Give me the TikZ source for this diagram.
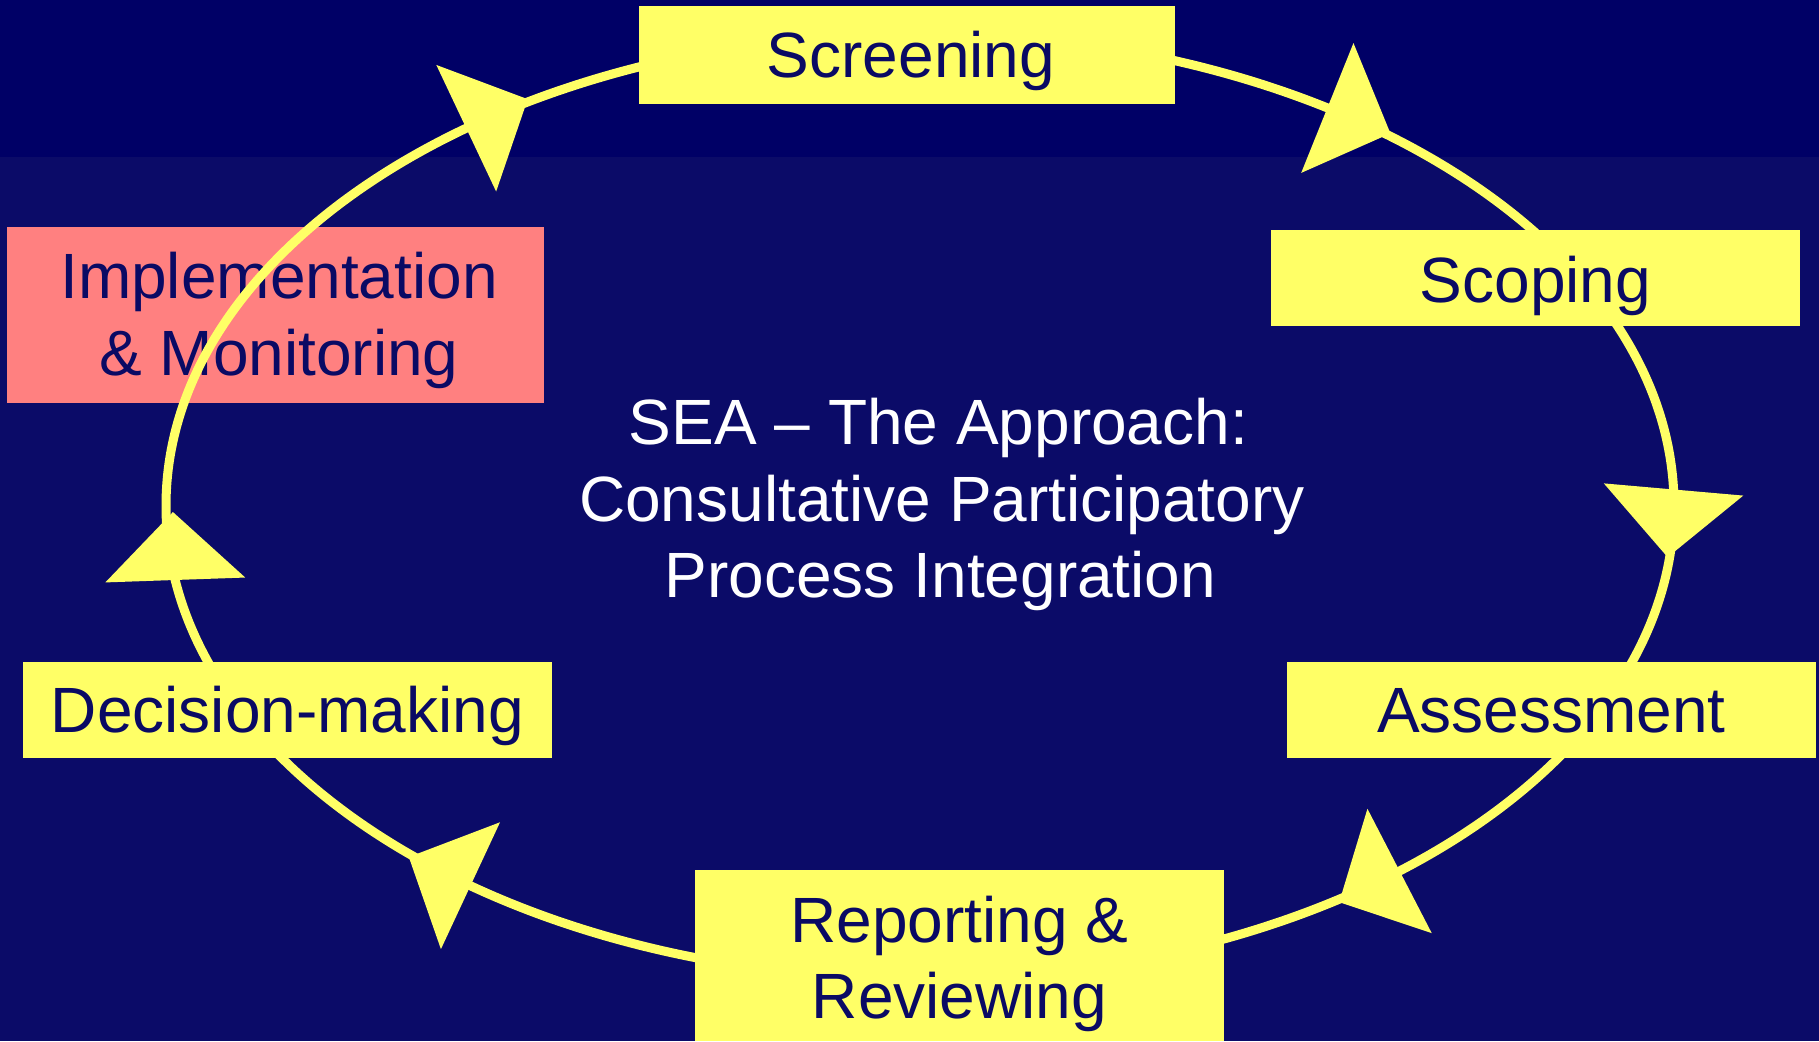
\documentclass[tikz,border=0pt]{standalone}
\usepackage{fontspec}
\setmainfont{Liberation Sans}
\definecolor{bgtop}{RGB}{0,0,102}
\definecolor{bgbot}{RGB}{11,11,104}
\definecolor{boxyellow}{RGB}{255,255,102}
\definecolor{boxpink}{RGB}{255,128,128}
\definecolor{navytext}{RGB}{10,10,100}
\newcommand\cycarrow[2][]{%
  \pgfmathsetmacro\cyX{920+754*cos(#2)}%
  \pgfmathsetmacro\cyY{535+473*sin(#2)}%
  \pgfmathsetmacro\cyA{atan2(-473*cos(#2),754*sin(#2))}%
  \if\relax\detokenize{#1}\relax\else\def\cyA{#1}\fi
  \begin{scope}[shift={(\cyX,\cyY)},rotate=\cyA]
    \fill[boxyellow] (0,-70) -- (68,0) -- (0,70) -- cycle;
  \end{scope}}
\tikzset{
  stagebox/.style={fill=boxyellow, draw=none, inner sep=0pt},
  implbox/.style={fill=boxpink, draw=none, inner sep=0pt},
  lbl/.style={anchor=base, inner sep=0pt, text=navytext, font=\fontsize{64}{77}\selectfont},
  centerlbl/.style={anchor=base, inner sep=0pt, text=white, font=\fontsize{64}{77}\selectfont},
  cycline/.style={draw=boxyellow, line width=9pt}
}
\begin{document}
\begin{tikzpicture}[x=1pt,y=1pt]
\useasboundingbox (0,0) rectangle (1819,1041);
\fill[bgbot] (0,0) rectangle (1819,884);
\fill[bgtop] (0,884) rectangle (1819,1041);
% Implementation box (below the cycle line)
\node[implbox, minimum width=537pt, minimum height=176pt] (nImpl) at (275.5,726) {};
\node[lbl] (tImplA) at ([xshift=3.5pt,yshift=16pt]nImpl.center) {Implementation};
\node[lbl] (tImplB) at ([xshift=3.5pt,yshift=-61pt]nImpl.center) {\& Monitoring};
% cycle
\draw[cycline] (920,535) ellipse [x radius=754pt, y radius=473pt];
% yellow stage boxes
\node[stagebox, minimum width=536pt, minimum height=98pt] (nScreen) at (907,986) {};
\node[lbl] (tScreen) at ([xshift=4pt,yshift=-23pt]nScreen.center) {Screening};
\node[stagebox, minimum width=529pt, minimum height=96pt] (nScope) at (1535.5,763) {};
\node[lbl] (tScope) at ([yshift=-25pt]nScope.center) {Scoping};
\node[stagebox, minimum width=529pt, minimum height=96pt] (nAssess) at (1551.5,331) {};
\node[lbl] (tAssess) at ([yshift=-23pt]nAssess.center) {Assessment};
\node[stagebox, minimum width=529pt, minimum height=171pt] (nReport) at (959.5,85.5) {};
\node[lbl] (tReportA) at ([yshift=13.5pt]nReport.center) {Reporting \&};
\node[lbl] (tReportB) at ([yshift=-62.5pt]nReport.center) {Reviewing};
\node[stagebox, minimum width=529pt, minimum height=96pt] (nDecide) at (287.5,331) {};
\node[lbl] (tDecide) at ([yshift=-23pt]nDecide.center) {Decision-making};
% arrowheads on the cycle
\cycarrow{127}
\cycarrow{57.3}
\cycarrow[-95]{2}
\cycarrow{309.5}
\cycarrow{233.4}
\cycarrow[92]{189}
% centre text
\node[centerlbl] (cA) at (938.5,596) {SEA \textendash{} The Approach:};
\node[centerlbl] (cB) at (942,519) {Consultative Participatory};
\node[centerlbl] (cC) at (940.5,443) {Process Integration};
\end{tikzpicture}
\end{document}
